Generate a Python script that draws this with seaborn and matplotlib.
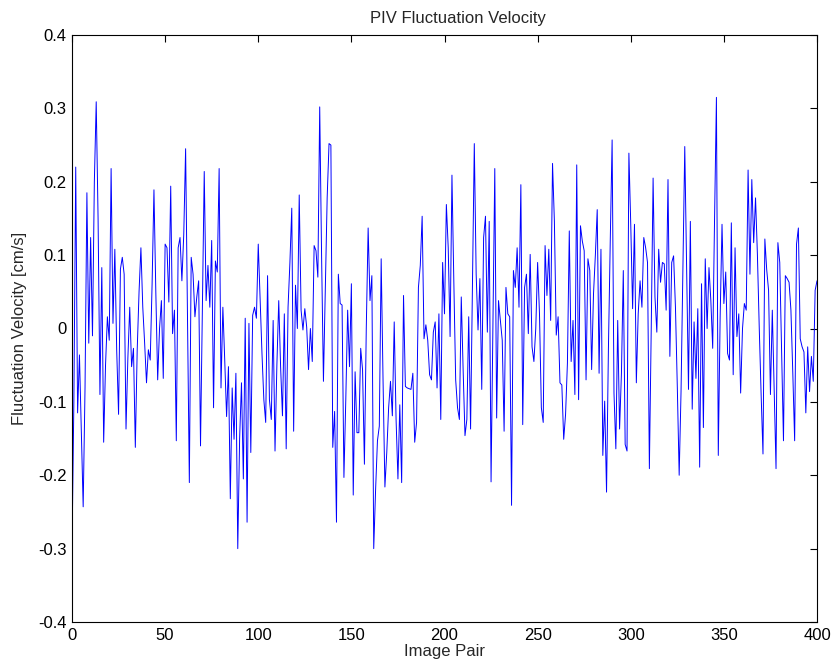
import numpy as np
import pandas as pd
import matplotlib
matplotlib.use("Agg")
import matplotlib.pyplot as plt
import seaborn as sns

# Fluctuation velocity values, image pairs 0..400
vel_000_099 = [
    -0.30, -0.10, 0.22, -0.115, -0.036, -0.14, -0.243, -0.08, 0.185, -0.02,
    0.124, -0.01, 0.20, 0.309, 0.15, -0.09, 0.083, -0.155, -0.05, 0.016,
    -0.016, 0.218, 0.007, 0.108, -0.03, -0.117, 0.081, 0.097, 0.074, -0.137,
    -0.04, 0.029, -0.052, -0.027, -0.162, -0.03, 0.05, 0.11, 0.029, -0.02,
    -0.074, -0.029, -0.043, 0.06, 0.189, 0.05, -0.07, 0.0, 0.038, -0.068,
    0.115, 0.11, 0.036, 0.194, -0.007, 0.025, -0.153, 0.11, 0.124, 0.065,
    0.128, 0.245, 0.02, -0.21, 0.097, 0.074, 0.016, 0.043, 0.065, -0.16,
    0.03, 0.214, 0.038, 0.086, 0.029, 0.12, -0.108, 0.092, 0.077, 0.218,
    -0.081, 0.029, -0.043, -0.12, -0.052, -0.232, -0.081, -0.151, -0.061, -0.30,
    -0.15, -0.074, -0.205, 0.014, -0.264, 0.007, -0.169, 0.018, 0.029, 0.014,
]
vel_100_199 = [
    0.115, 0.04, -0.034, -0.097, -0.128, 0.072, -0.097, -0.124, 0.011, -0.167,
    -0.05, 0.038, -0.052, -0.119, 0.02, -0.164, 0.029, 0.09, 0.164, -0.14,
    0.059, 0.0, 0.182, 0.025, -0.002, 0.027, 0.002, -0.056, 0.0, -0.045,
    0.113, 0.106, 0.07, 0.302, 0.10, -0.072, 0.05, 0.178, 0.252, 0.25,
    -0.162, -0.113, -0.264, 0.074, 0.034, 0.032, -0.203, -0.097, 0.025, -0.052,
    0.061, -0.227, -0.059, -0.142, -0.142, -0.027, -0.056, -0.185, 0.0, 0.137,
    0.038, 0.072, -0.30, -0.22, -0.153, -0.133, 0.095, -0.07, -0.216, -0.169,
    -0.108, -0.072, -0.119, 0.009, -0.124, -0.205, -0.104, -0.21, 0.045, -0.079,
    -0.081, -0.082, -0.083, -0.061, -0.155, -0.128, 0.056, 0.086, 0.153, -0.014,
    0.005, -0.016, -0.063, -0.07, -0.005, 0.009, -0.081, 0.02, -0.124, 0.09,
]
vel_200_299 = [
    0.02, 0.169, 0.11, -0.011, 0.209, 0.065, -0.07, -0.108, -0.124, 0.043,
    -0.056, -0.146, -0.124, 0.016, -0.137, 0.052, 0.252, 0.074, -0.002, 0.068,
    -0.083, 0.124, 0.153, -0.005, 0.146, -0.209, 0.0, 0.218, -0.122, 0.038,
    0.011, -0.016, -0.14, 0.056, 0.02, 0.016, -0.241, 0.079, 0.056, 0.11,
    0.029, 0.196, -0.131, 0.056, 0.074, -0.007, 0.101, -0.025, -0.045, 0.0,
    0.09, 0.02, -0.108, -0.128, 0.113, 0.045, 0.108, 0.011, 0.225, 0.146,
    -0.009, 0.016, -0.074, -0.077, -0.151, -0.117, -0.047, 0.133, -0.045, 0.011,
    -0.09, 0.223, -0.097, 0.14, 0.119, 0.106, -0.07, 0.095, 0.079, -0.056,
    0.047, 0.10, 0.162, -0.061, 0.108, -0.173, -0.099, -0.223, -0.029, 0.12,
    0.257, -0.088, -0.164, 0.011, -0.137, -0.061, 0.079, -0.158, -0.167, 0.239,
]
vel_300_400 = [
    0.142, 0.027, 0.142, -0.074, 0.02, 0.065, 0.029, 0.124, 0.11, 0.09,
    -0.191, 0.0, 0.205, 0.043, -0.005, 0.108, 0.063, 0.09, 0.088, 0.025,
    0.203, -0.038, 0.09, 0.099, 0.029, -0.08, -0.2, -0.086, 0.08, 0.248,
    0.083, -0.083, 0.146, -0.11, 0.009, -0.068, 0.027, -0.189, 0.061, -0.135,
    0.095, 0.0, 0.083, 0.038, -0.027, 0.15, 0.315, -0.173, 0.016, 0.142,
    0.034, 0.077, -0.034, -0.043, 0.144, -0.063, 0.11, -0.011, 0.02, -0.088,
    0.0, 0.034, 0.025, 0.216, 0.074, 0.203, 0.117, 0.178, 0.101, 0.0,
    -0.09, -0.171, 0.122, 0.08, 0.052, -0.09, 0.025, -0.08, -0.191, 0.117,
    0.09, -0.03, -0.153, 0.072, 0.068, 0.063, 0.025, -0.06, -0.153, 0.115,
    0.137, -0.014, -0.025, -0.032, -0.115, -0.025, -0.086, -0.038, -0.072, 0.052,
    0.065,
]

x_ticks = [0, 50, 100, 150, 200, 250, 300, 350, 400]
y_ticks = [-0.4, -0.3, -0.2, -0.1, 0.0, 0.1, 0.2, 0.3, 0.4]
y_tick_labels = ["-0.4", "-0.3", "-0.2", "-0.1", "0", "0.1", "0.2", "0.3", "0.4"]

values = vel_000_099 + vel_100_199 + vel_200_299 + vel_300_400
df = pd.DataFrame({"Image Pair": np.arange(len(values)), "Velocity": values})

sns.set_style("white")
plt.rcParams["font.family"] = ["Liberation Sans", "DejaVu Sans"]

fig = plt.figure(figsize=(8.33, 6.65), dpi=100)
ax = fig.add_axes([72 / 833, 1 - 622 / 665, (817 - 72) / 833, (622 - 35) / 665])

sns.lineplot(data=df, x="Image Pair", y="Velocity", ax=ax, color="#0000ff",
             linewidth=0.7, estimator=None)

ax.set_xlim(0, 400)
ax.set_ylim(-0.4, 0.4)
ax.set_xticks(x_ticks)
ax.set_yticks(y_ticks)
ax.set_yticklabels(y_tick_labels)
ax.tick_params(direction="in", length=5, width=0.8, top=True, right=True,
               labelsize=12, colors="black", pad=4)
for s in ax.spines.values():
    s.set_visible(True)
    s.set_color("black")
    s.set_linewidth(0.8)

ax.set_xlabel("Image Pair", fontsize=12, labelpad=1)
ax.set_ylabel("Fluctuation Velocity [cm/s]", fontsize=12, labelpad=8)
ax.set_title("PIV Fluctuation Velocity", fontsize=12, pad=9, x=0.518)

fig.savefig("out.png", dpi=100, facecolor="white")
